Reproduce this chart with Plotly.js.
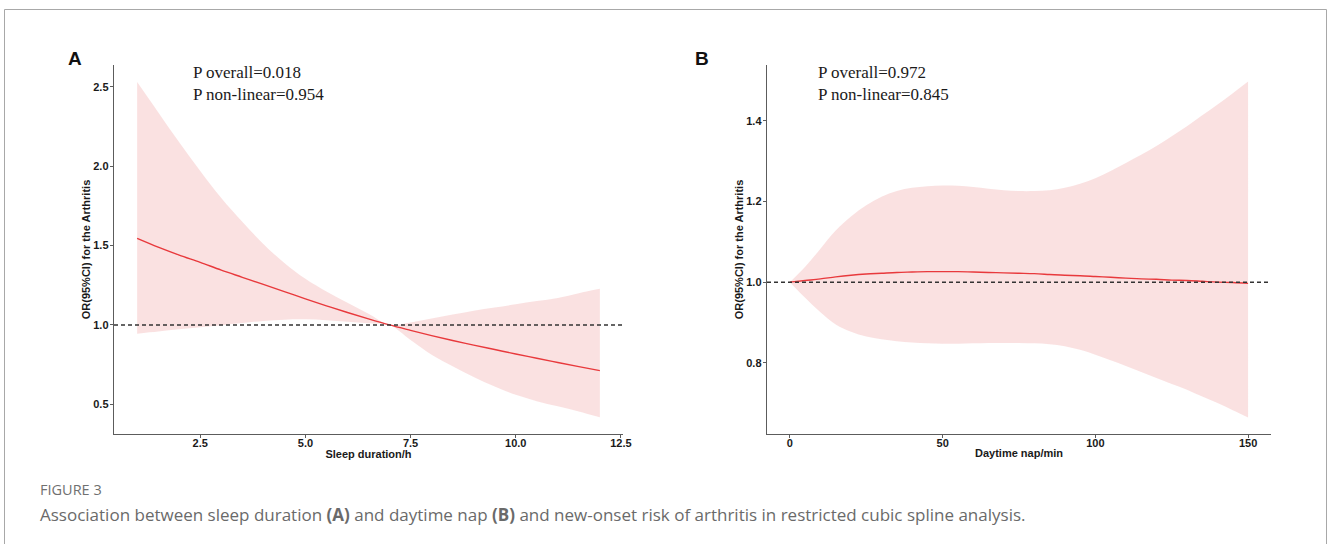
<!DOCTYPE html>
<html>
<head>
<meta charset="utf-8">
<script src="https://cdn.plot.ly/plotly-3.0.1.min.js"></script>
<style>
  html, body { margin: 0; padding: 0; background: #ffffff; }
  #chart { width: 1328px; height: 544px; }
</style>
</head>
<body>
<div id="chart"></div>
<script>
// ---- Panel A: sleep duration (h) ----
const sleepX     = [1, 1.5, 2, 2.5, 3, 3.5, 4, 4.5, 5, 5.5, 6, 6.5, 7, 7.5, 8, 8.5, 9, 9.5, 10, 10.5, 11, 11.5, 12];
const sleepOR    = [1.545, 1.49, 1.44, 1.394, 1.345, 1.30, 1.255, 1.21, 1.164, 1.12, 1.078, 1.038, 1.0, 0.966, 0.933, 0.902, 0.873, 0.845, 0.817, 0.79, 0.763, 0.737, 0.712];
const sleepLower = [0.945, 0.958, 0.972, 0.985, 0.998, 1.012, 1.025, 1.033, 1.035, 1.03, 1.02, 1.01, 1.0, 0.905, 0.812, 0.74, 0.672, 0.612, 0.56, 0.52, 0.487, 0.455, 0.418];
const sleepUpper = [2.53, 2.34, 2.15, 1.97, 1.80, 1.65, 1.51, 1.39, 1.29, 1.21, 1.14, 1.07, 1.0, 1.015, 1.04, 1.065, 1.09, 1.11, 1.13, 1.15, 1.17, 1.20, 1.228];

// ---- Panel B: daytime nap (min) ----
const napX     = [0, 5, 10, 15, 20, 25, 30, 35, 40, 45, 50, 55, 60, 65, 70, 75, 80, 85, 90, 95, 100, 105, 110, 115, 120, 125, 130, 135, 140, 145, 150];
const napOR    = [1.0, 1.004, 1.008, 1.013, 1.017, 1.020, 1.022, 1.024, 1.025, 1.026, 1.026, 1.026, 1.025, 1.024, 1.023, 1.022, 1.021, 1.019, 1.017, 1.016, 1.014, 1.012, 1.010, 1.008, 1.007, 1.005, 1.004, 1.002, 1.000, 0.999, 0.997];
const napLower = [1.0, 0.961, 0.925, 0.895, 0.877, 0.865, 0.858, 0.853, 0.850, 0.848, 0.847, 0.847, 0.848, 0.849, 0.849, 0.849, 0.848, 0.846, 0.841, 0.832, 0.820, 0.806, 0.792, 0.777, 0.762, 0.747, 0.733, 0.716, 0.700, 0.682, 0.664];
const napUpper = [1.0, 1.038, 1.083, 1.128, 1.163, 1.191, 1.212, 1.226, 1.234, 1.238, 1.240, 1.239, 1.236, 1.232, 1.228, 1.226, 1.226, 1.228, 1.234, 1.244, 1.258, 1.276, 1.296, 1.316, 1.338, 1.362, 1.387, 1.414, 1.441, 1.469, 1.498];

// ---- Tick labels and texts ----
const sleepTicks = [2.5, 5, 7.5, 10, 12.5];
const sleepTickText = ['2.5', '5.0', '7.5', '10.0', '12.5'];
const sleepYTicks = [0.5, 1.0, 1.5, 2.0, 2.5];
const sleepYTickText = ['0.5', '1.0', '1.5', '2.0', '2.5'];
const napTicks = [0, 50, 100, 150];
const napTickText = ['0', '50', '100', '150'];
const napYTicks = [0.8, 1.0, 1.2, 1.4];
const napYTickText = ['0.8', '1.0', '1.2', '1.4'];

const W = 1328, H = 544;
const BAND = 'rgba(248,215,215,0.75)';
const LINE = '#e8393c';
const AXC = '#5c5c5c';

function band(x, lo, hi, xa, ya) {
  return [
    {x: x, y: lo, xaxis: xa, yaxis: ya, type: 'scatter', mode: 'lines',
     line: {width: 0, shape: 'spline'}, hoverinfo: 'skip', showlegend: false},
    {x: x, y: hi, xaxis: xa, yaxis: ya, type: 'scatter', mode: 'lines', fill: 'tonexty',
     fillcolor: BAND, line: {width: 0, shape: 'spline'}, hoverinfo: 'skip', showlegend: false}
  ];
}
function fit(x, y, xa, ya) {
  return {x: x, y: y, xaxis: xa, yaxis: ya, type: 'scatter', mode: 'lines',
          line: {color: LINE, width: 1.4, shape: 'spline'}, showlegend: false};
}

const data = [].concat(
  band(sleepX, sleepLower, sleepUpper, 'x', 'y'),
  [fit(sleepX, sleepOR, 'x', 'y')],
  band(napX, napLower, napUpper, 'x2', 'y2'),
  [fit(napX, napOR, 'x2', 'y2')]
);

const tickFont = {family: 'Liberation Sans, Arial, sans-serif', size: 11, color: '#1a1a1a', weight: 'bold'};
const titleFont = {family: 'Liberation Sans, Arial, sans-serif', size: 11, color: '#1a1a1a', weight: 'bold'};

function xAxis(domain, range, tv, tt, title, anchor) {
  return {domain: domain, range: range, anchor: anchor, tickvals: tv, ticktext: tt,
    showline: true, linecolor: AXC, linewidth: 1.3, ticks: 'outside', ticklen: 3, tickcolor: AXC,
    tickwidth: 1, showgrid: false, zeroline: false, tickfont: tickFont, automargin: false,
    ticklabelstandoff: -5,
    title: {text: title, font: titleFont, standoff: 1}, fixedrange: true};
}
function yAxis(domain, range, tv, tt, anchor) {
  return {domain: domain, range: range, anchor: anchor, tickvals: tv, ticktext: tt,
    showline: true, linecolor: AXC, linewidth: 1.3, ticks: 'outside', ticklen: 3, tickcolor: AXC,
    tickwidth: 1, showgrid: false, zeroline: false, tickfont: tickFont, automargin: false,
    ticklabelstandoff: -1,
    title: {text: 'OR(95%CI) for the Arthritis', font: titleFont, standoff: 0}, fixedrange: true};
}

const yDom = [1 - 434 / H, 1 - 65 / H];

const annFontSerif = {family: 'Liberation Serif, Times New Roman, serif', size: 17, color: '#1a1a1a'};
const annotations = [
  {text: '<b>A</b>', x: 75 / W, y: 1 - 59 / H, xref: 'paper', yref: 'paper', showarrow: false,
   xanchor: 'center', yanchor: 'middle', font: {family: 'Liberation Sans, Arial, sans-serif', size: 19, color: '#111'}},
  {text: '<b>B</b>', x: 702 / W, y: 1 - 59 / H, xref: 'paper', yref: 'paper', showarrow: false,
   xanchor: 'center', yanchor: 'middle', font: {family: 'Liberation Sans, Arial, sans-serif', size: 19, color: '#111'}},
  {text: 'P overall=0.018', x: 191 / W, y: 1 - 73 / H, xref: 'paper', yref: 'paper', showarrow: false,
   xanchor: 'left', yanchor: 'middle', font: annFontSerif},
  {text: 'P non-linear=0.954', x: 191 / W, y: 1 - 94 / H, xref: 'paper', yref: 'paper', showarrow: false,
   xanchor: 'left', yanchor: 'middle', font: annFontSerif},
  {text: 'P overall=0.972', x: 816 / W, y: 1 - 73 / H, xref: 'paper', yref: 'paper', showarrow: false,
   xanchor: 'left', yanchor: 'middle', font: annFontSerif},
  {text: 'P non-linear=0.845', x: 816 / W, y: 1 - 94 / H, xref: 'paper', yref: 'paper', showarrow: false,
   xanchor: 'left', yanchor: 'middle', font: annFontSerif},
  {text: 'FIGURE 3', x: 38 / W, y: 1 - 489 / H, xref: 'paper', yref: 'paper', showarrow: false,
   xanchor: 'left', yanchor: 'middle', font: {family: 'Open Sans, sans-serif', size: 14.5, color: '#707070'}},
  {text: 'Association between sleep duration <b>(A)</b> and daytime nap <b>(B)</b> and new-onset risk of arthritis in restricted cubic spline analysis.',
   x: 38 / W, y: 1 - 514 / H, xref: 'paper', yref: 'paper', showarrow: false,
   xanchor: 'left', yanchor: 'middle', font: {family: 'Open Sans, sans-serif', size: 17, color: '#6a6a6a'}}
];

const shapes = [
  {type: 'line', xref: 'x domain', yref: 'y', x0: 0, x1: 1, y0: 1, y1: 1,
   line: {color: '#333', width: 1.5, dash: '4px,3px'}},
  {type: 'line', xref: 'x2 domain', yref: 'y2', x0: 0, x1: 1, y0: 1, y1: 1,
   line: {color: '#333', width: 1.5, dash: '4px,3px'}},
  {type: 'rect', xref: 'paper', yref: 'paper', x0: 4.5 / W, x1: 1326.5 / W, y0: -0.05, y1: 1 - 9.5 / H,
   line: {color: '#a8a8a8', width: 1}, fillcolor: 'rgba(0,0,0,0)', layer: 'below'}
];

const layout = {
  width: W, height: H,
  margin: {l: 0, r: 0, t: 0, b: 0},
  paper_bgcolor: '#ffffff', plot_bgcolor: '#ffffff',
  showlegend: false,
  xaxis: xAxis([114 / W, 623 / W], [0.45, 12.55], sleepTicks, sleepTickText, 'Sleep duration/h', 'y'),
  yaxis: yAxis(yDom, [0.313, 2.637], sleepYTicks, sleepYTickText, 'x'),
  xaxis2: xAxis([767 / W, 1271 / W], [-7.5, 157.5], napTicks, napTickText, 'Daytime nap/min', 'y2'),
  yaxis2: yAxis(yDom, [0.623, 1.539], napYTicks, napYTickText, 'x2'),
  annotations: annotations,
  shapes: shapes
};

Plotly.newPlot('chart', data, layout, {displayModeBar: false, staticPlot: true});
</script>
</body>
</html>
